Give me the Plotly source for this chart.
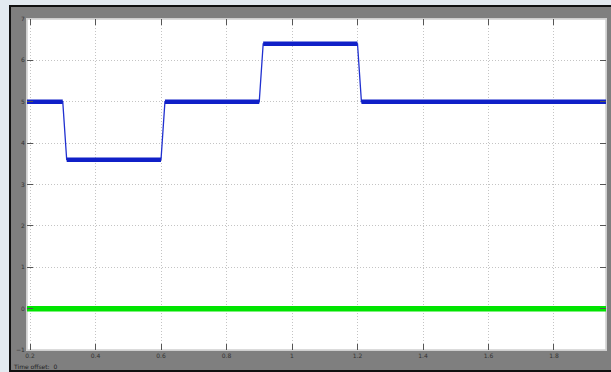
import plotly.graph_objects as go

# Data
time_blue = [0.19, 0.30, 0.312, 0.60, 0.612, 0.90, 0.912, 1.20, 1.212, 1.96]
signal_blue = [5.0, 5.0, 3.6, 3.6, 5.0, 5.0, 6.4, 6.4, 5.0, 5.0]
time_green = [0.19, 1.96]
signal_green = [0.0, 0.0]
x_ticks = [0.2, 0.4, 0.6, 0.8, 1.0, 1.2, 1.4, 1.6, 1.8]
x_tick_labels = ["0.2", "0.4", "0.6", "0.8", "1", "1.2", "1.4", "1.6", "1.8"]
y_ticks = [-1, 0, 1, 2, 3, 4, 5, 6, 7]

W, H = 611, 372
L, R, T, B = 27, 5, 19, 22
PW = W - L - R
PH = H - T - B


def px(xp):
    return (xp - L) / PW


def py(yp):
    return (H - B - yp) / PH


# plateau segments (thick noisy band) vs. thin transitions
plat_x, plat_y = [], []
for i in range(len(time_blue) - 1):
    if signal_blue[i] == signal_blue[i + 1]:
        plat_x += [time_blue[i], time_blue[i + 1], None]
        plat_y += [signal_blue[i], signal_blue[i + 1], None]

fig = go.Figure()
fig.add_trace(go.Scatter(x=time_green, y=signal_green, mode="lines",
                         line=dict(color="#00e400", width=5.5), showlegend=False))
fig.add_trace(go.Scatter(x=time_blue, y=signal_blue, mode="lines",
                         line=dict(color="#2030d0", width=1.3), showlegend=False))
fig.add_trace(go.Scatter(x=plat_x, y=plat_y, mode="lines", connectgaps=False,
                         line=dict(color="#1020c8", width=4.5), showlegend=False))

shapes = [
    # black frame
    dict(type="rect", xref="paper", yref="paper", x0=px(9), x1=px(613), y0=py(372), y1=py(5),
         fillcolor="#111111", line=dict(width=0), layer="below"),
    # gray panel
    dict(type="rect", xref="paper", yref="paper", x0=px(11), x1=px(613), y0=py(370), y1=py(7),
         fillcolor="#7f7f7f", line=dict(width=0), layer="below"),
    # white plot area
    dict(type="rect", xref="paper", yref="paper", x0=0, x1=1, y0=0, y1=1,
         fillcolor="#ffffff", line=dict(color="#cfcfcf", width=1.5), layer="below"),
]

fig.update_layout(
    width=W, height=H,
    margin=dict(l=L, r=R, t=T, b=B, autoexpand=False),
    paper_bgcolor="#e3eaf0",
    plot_bgcolor="#ffffff",
    shapes=shapes,
    font=dict(family="DejaVu Sans", size=6, color="#333333"),
    annotations=[dict(text="Time offset:  0", xref="paper", yref="paper",
                      x=px(11), y=py(367), xanchor="left", yanchor="middle",
                      showarrow=False, font=dict(size=6, color="#222222"))],
)
axis_common = dict(showgrid=True, gridcolor="#c4c4c4", griddash="1px,2px", gridwidth=1,
                   ticks="inside", ticklen=6, tickcolor="#555555", mirror="ticks",
                   showline=True, linecolor="#cfcfcf", zeroline=False, automargin=False,
                   tickfont=dict(size=6, color="#333333"))
fig.update_xaxes(range=[0.1908, 1.9588], tickvals=x_ticks, ticktext=x_tick_labels, **axis_common)
fig.update_yaxes(range=[-1, 7], tickvals=y_ticks, **axis_common)

fig.write_html("out.html", config={"displayModeBar": False},
               post_script="document.body.style.margin='0';document.body.style.overflow='hidden';")
